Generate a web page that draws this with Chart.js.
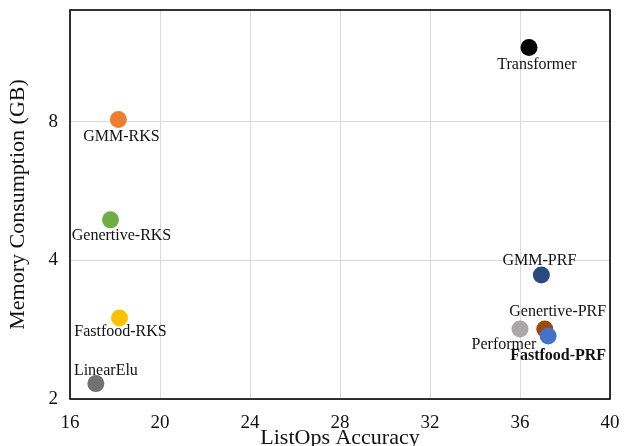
<!DOCTYPE html>
<html>
<head>
<meta charset="utf-8">
<script src="https://cdn.jsdelivr.net/npm/chart.js@4/dist/chart.umd.min.js"></script>
<style>
  html, body { margin: 0; padding: 0; background: #fff; }
  #wrap { width: 624px; height: 446px; }
</style>
</head>
<body>
<div id="wrap"><canvas id="memChart" width="624" height="446"></canvas></div>
<script>
/* ================= DATA ================= */
const models = ["Transformer", "GMM-RKS", "Genertive-RKS", "Fastfood-RKS", "LinearElu",
  "GMM-PRF", "Performer", "Genertive-PRF", "Fastfood-PRF"];
const accuracy = [36.4, 18.15, 17.8, 18.2, 17.15, 36.95, 36.0, 37.1, 37.25];
const memoryGB = [11.6, 8.1, 4.9, 3.0, 2.16, 3.72, 2.84, 2.84, 2.74];
const xTicks = [16, 20, 24, 28, 32, 36, 40];
const yTicks = [2, 4, 8];

/* ================= STYLE ================= */
const colors = ["#000000", "#ED7D31", "#70AD47", "#FFC000", "#767171",
  "#2B4A7E", "#A9A7A7", "#9E480E", "#4472C4"];

// label offset from the point (px) + bold flag
const labelPos = {
  "Transformer":   { dx: 8,   dy: 17 },
  "GMM-RKS":       { dx: 3,   dy: 17 },
  "Genertive-RKS": { dx: 11,  dy: 16 },
  "Fastfood-RKS":  { dx: 1,   dy: 14 },
  "LinearElu":     { dx: 10,  dy: -13 },
  "GMM-PRF":       { dx: -2,  dy: -14 },
  "Performer":     { dx: -16, dy: 16 },
  "Genertive-PRF": { dx: 13,  dy: -17 },
  "Fastfood-PRF":  { dx: 10,  dy: 20, bold: true }
};

const SERIF = "'Liberation Serif', 'DejaVu Serif', serif";

const pointLabels = {
  id: "pointLabels",
  afterDatasetsDraw(chart) {
    const ctx = chart.ctx;
    const meta = chart.getDatasetMeta(0);
    ctx.save();
    ctx.fillStyle = "#111";
    ctx.textAlign = "center";
    ctx.textBaseline = "middle";
    meta.data.forEach((pt, i) => {
      const p = labelPos[models[i]];
      ctx.font = (p.bold ? "bold " : "") + "16px " + SERIF;
      ctx.fillText(models[i], pt.x + p.dx, pt.y + p.dy);
    });
    ctx.restore();
  }
};

const frame = {
  id: "frame",
  afterDraw(chart) {
    const { ctx, chartArea: a } = chart;
    ctx.save();
    ctx.strokeStyle = "#000";
    ctx.lineWidth = 1.6;
    ctx.strokeRect(a.left, a.top, a.right - a.left, a.bottom - a.top);
    ctx.restore();
  }
};

const whiteBg = {
  id: "whiteBg",
  beforeDraw(chart) {
    const ctx = chart.ctx;
    ctx.save();
    ctx.fillStyle = "#fff";
    ctx.fillRect(0, 0, chart.width, chart.height);
    ctx.restore();
  }
};

/* ================= CHART ================= */
new Chart(document.getElementById("memChart"), {
  type: "scatter",
  data: {
    datasets: [{
      data: models.map((m, i) => ({ x: accuracy[i], y: memoryGB[i] })),
      pointBackgroundColor: colors,
      pointBorderWidth: 0,
      pointRadius: 8.5,
      pointHoverRadius: 8.5
    }]
  },
  options: {
    responsive: false,
    animation: false,
    layout: { padding: { top: 10, right: 14, left: 0, bottom: 0 } },
    plugins: {
      legend: { display: false },
      tooltip: { enabled: false }
    },
    scales: {
      x: {
        type: "linear",
        min: 16,
        max: 40,
        afterBuildTicks: s => { s.ticks = xTicks.map(v => ({ value: v })); },
        afterFit: s => { s.height = 47; s.paddingLeft = 0; s.paddingRight = 0; },
        grid: { color: "#d9d9d9", lineWidth: 1, drawTicks: false },
        border: { display: false },
        ticks: {
          color: "#111",
          padding: 13,
          font: { family: SERIF, size: 19 }
        },
        title: {
          display: true,
          text: "ListOps Accuracy",
          color: "#111",
          font: { family: SERIF, size: 22, lineHeight: 1.1 },
          padding: { top: 0, bottom: -4 }
        }
      },
      y: {
        type: "logarithmic",
        min: 2,
        max: 14,
        afterBuildTicks: s => { s.ticks = yTicks.map(v => ({ value: v })); },
        afterFit: s => { s.width = 70; s.paddingTop = 0; s.paddingBottom = 0; },
        grid: { color: "#d9d9d9", lineWidth: 1, drawTicks: false },
        border: { display: false },
        ticks: {
          color: "#111",
          padding: 12,
          font: { family: SERIF, size: 19 },
          callback: v => String(v)
        },
        title: {
          display: true,
          text: "Memory Consumption (GB)",
          color: "#111",
          font: { family: SERIF, size: 22, lineHeight: 1.2 },
          padding: { top: 5, bottom: 0 }
        }
      }
    }
  },
  plugins: [whiteBg, pointLabels, frame]
});
</script>
</body>
</html>
